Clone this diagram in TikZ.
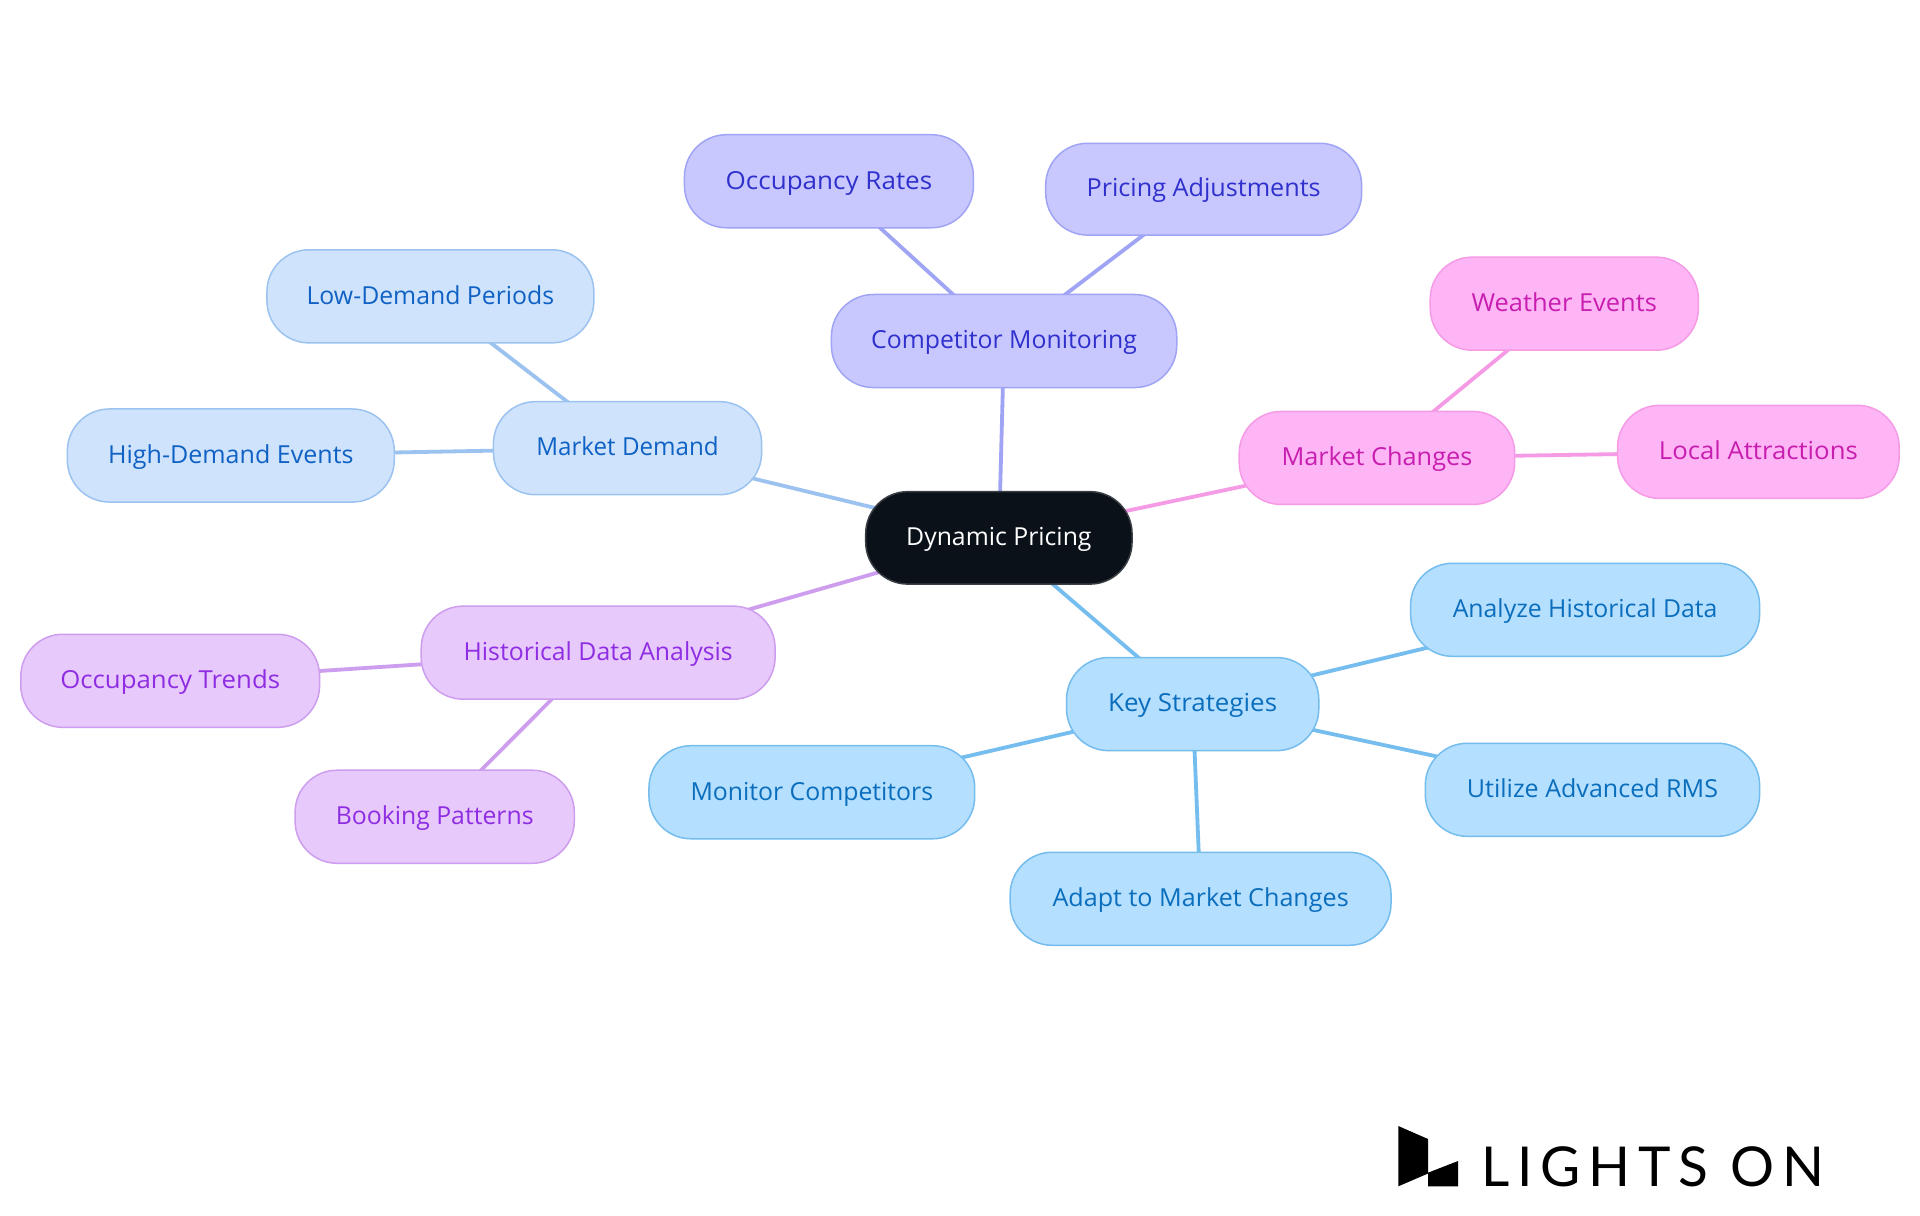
\documentclass[tikz,border=0pt]{standalone}
\usepackage{graphicx}
\usepackage{fontspec}
\setmainfont{Open Sans}
\newfontfamily\logofont[LetterSpace=14.3]{Lato}
\usetikzlibrary{backgrounds}
\definecolor{blF}{HTML}{CFE3FC}\definecolor{blS}{HTML}{9CC3F0}\definecolor{blT}{HTML}{0F62C4}
\definecolor{inF}{HTML}{C8C8FE}\definecolor{inS}{HTML}{A0A4F4}\definecolor{inT}{HTML}{3030CC}
\definecolor{pkF}{HTML}{FEB5F5}\definecolor{pkS}{HTML}{F59BE6}\definecolor{pkT}{HTML}{C81EB0}
\definecolor{skF}{HTML}{B5DFFE}\definecolor{skS}{HTML}{74BDEE}\definecolor{skT}{HTML}{0A6EBD}
\definecolor{puF}{HTML}{E8C9FC}\definecolor{puS}{HTML}{CE9EEE}\definecolor{puT}{HTML}{8E2DE2}
\definecolor{rootF}{HTML}{0B1119}\definecolor{rootS}{HTML}{3A3F45}
\tikzset{
  mnode/.style={rounded corners=21pt,inner sep=0pt,line width=0.75pt,font=\fontsize{12.4}{15}\selectfont,text height=10.1pt,text depth=2.3pt},
  blN/.style={mnode,fill=blF,draw=blS,text=blT},
  inN/.style={mnode,fill=inF,draw=inS,text=inT},
  pkN/.style={mnode,fill=pkF,draw=pkS,text=pkT},
  skN/.style={mnode,fill=skF,draw=skS,text=skT},
  puN/.style={mnode,fill=puF,draw=puS,text=puT},
  rootN/.style={mnode,fill=rootF,draw=rootS,text=white},
  lnk/.style={line width=1.9pt},
}
\newcommand\mm[7]{\node[#2,minimum width={(#4-#3)*0.61225pt},minimum height={(#6-#5)*0.61225pt}] (#1) at ({(#3+#4)/2},{(#5+#6)/2}) {#7};}
\newcommand\sx[2]{\scalebox{#1}[1]{#2}}
\begin{document}
\begin{tikzpicture}[x=0.61225pt,y=-0.61225pt]
\useasboundingbox (0,0) rectangle (1568,992.25);
\mm{root}{rootN}{707}{924.5}{401.5}{477}{Dynamic Pricing}
\mm{md}{blN}{403}{622}{328}{404}{\sx{0.974}{Market Demand}}
\mm{hde}{blN}{55}{322}{334}{410}{\sx{1.01}{High-Demand Events}}
\mm{ldp}{blN}{218}{485}{204}{280}{Low-Demand Periods}
\mm{cm}{inN}{679}{961}{240.5}{316.5}{Competitor Monitoring}
\mm{ocr}{inN}{559}{795}{110}{186}{\sx{1.05}{Occupancy Rates}}
\mm{pa}{inN}{854}{1112}{117}{192}{\sx{1.016}{Pricing Adjustments}}
\mm{mc}{pkN}{1012}{1237}{336}{412}{\sx{1.02}{Market Changes}}
\mm{we}{pkN}{1168}{1387}{210}{286}{\sx{1.027}{Weather Events}}
\mm{la}{pkN}{1321}{1551}{331}{407}{\sx{1.038}{Local Attractions}}
\mm{ks}{skN}{871}{1077}{537}{613}{\sx{1.045}{Key Strategies}}
\mm{ahd}{skN}{1152}{1437}{460}{536}{Analyze Historical Data}
\mm{uar}{skN}{1164}{1437}{607}{683}{\sx{1.01}{Utilize Advanced RMS}}
\mm{amc}{skN}{825}{1136}{696}{772}{\sx{1.013}{Adapt to Market Changes}}
\mm{moc}{skN}{530}{796}{609}{685}{Monitor Competitors}
\mm{hda}{puN}{344}{633}{495}{571}{Historical Data Analysis}
\mm{ot}{puN}{17}{261}{518}{594}{\sx{1.04}{Occupancy Trends}}
\mm{bp}{puN}{241}{469}{629}{705}{Booking Patterns}
\begin{pgfonlayer}{background}
\fill[white] (0,0) rectangle (1568,992.25);
\draw[lnk,blS] (root.center)--(md.center) (md.center)--(hde.center) (md.center)--(ldp.center);
\draw[lnk,inS] (root.center)--(cm.center) (cm.center)--(ocr.center) (cm.center)--(pa.center);
\draw[lnk,pkS] (root.center)--(mc.center) (mc.center)--(we.center) (mc.center)--(la.center);
\draw[lnk,skS] (root.center)--(ks.center) (ks.center)--(ahd.center) (ks.center)--(uar.center) (ks.center)--(amc.center) (ks.center)--(moc.center);
\draw[lnk,puS] (root.center)--(hda.center) (hda.center)--(ot.center) (hda.center)--(bp.center);
\end{pgfonlayer}
\begin{scope}[x=0.5pt,y=-0.5pt]
\fill[black] (1398.3,1126)--(1428,1139)--(1428,1172.7)--(1458,1161)--(1458,1186.3)--(1428,1186.3)--(1428,1173.5)--(1398.3,1186.3)--cycle;
\node[inner sep=0pt,anchor=base west,font=\logofont\fontsize{27.5}{30}\selectfont,text=black] (logo) at (1481,1186.5) {LIGHTS ON};
\end{scope}
\end{tikzpicture}
\end{document}
